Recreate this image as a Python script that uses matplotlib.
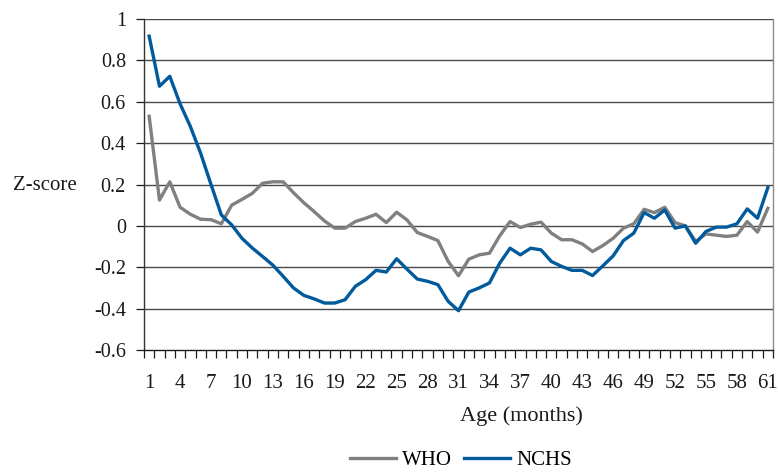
import matplotlib
matplotlib.use("Agg")
from matplotlib import pyplot as plt
import numpy as np

# monthly mean Z-scores
MONTHS = list(range(1, 62))
WHO = [0.53, 0.125, 0.213, 0.09, 0.056, 0.032, 0.03, 0.01, 0.10, 0.128,
       0.157, 0.206, 0.213, 0.213, 0.16, 0.112, 0.069, 0.024, -0.011, -0.011,
       0.021, 0.037, 0.056, 0.016, 0.066, 0.029, -0.032, -0.051, -0.071, -0.172,
       -0.241, -0.161, -0.14, -0.132, -0.048, 0.021, -0.008, 0.008, 0.018, -0.035,
       -0.067, -0.067, -0.087, -0.124, -0.095, -0.06, -0.011, 0.01, 0.08, 0.064,
       0.09, 0.016, 0.0, -0.075, -0.039, -0.045, -0.051, -0.045, 0.021, -0.03,
       0.085]
NCHS = [0.917, 0.675, 0.723, 0.59, 0.48, 0.35, 0.20, 0.053, 0.005, -0.06,
        -0.107, -0.148, -0.19, -0.244, -0.30, -0.336, -0.353, -0.373, -0.373, -0.357,
        -0.292, -0.26, -0.215, -0.223, -0.159, -0.209, -0.257, -0.268, -0.284, -0.365,
        -0.41, -0.32, -0.30, -0.276, -0.18, -0.108, -0.14, -0.108, -0.116, -0.172,
        -0.196, -0.215, -0.215, -0.24, -0.193, -0.145, -0.071, -0.035, 0.064, 0.037,
        0.077, -0.011, 0.0, -0.084, -0.027, -0.006, -0.006, 0.01, 0.082, 0.037,
        0.185]
Y_TICKS = [-0.6, -0.4, -0.2, 0, 0.2, 0.4, 0.6, 0.8, 1]
Y_LABELS = ["-0.6", "-0.4", "-0.2", "0", "0.2", "0.4", "0.6", "0.8", "1"]
X_LABEL_MONTHS = MONTHS[::3]

GRAY = "#808080"
BLUE = "#005a9c"
INK = "#1a1a1a"

plt.rcParams["font.family"] = ["Liberation Serif", "DejaVu Serif"]

W, H = 778, 474
fig = plt.figure(figsize=(W / 100, H / 100), dpi=100)
ax = fig.add_axes([144 / W, 1 - 350 / H, (773 - 144) / W, (350 - 19) / H])

for yv in Y_TICKS[1:]:
    ax.axhline(yv, color="#4a4a4a", linewidth=1.0, zorder=1)

ax.plot(MONTHS, WHO, color=GRAY, linewidth=2.4, label="WHO", zorder=3)
ax.plot(MONTHS, NCHS, color=BLUE, linewidth=2.4, label="NCHS", zorder=4)

ax.set_xlim(0.5, 61.5)
ax.set_ylim(-0.6, 1.0)
ax.set_yticks(Y_TICKS)
ax.set_yticklabels(Y_LABELS)
ax.set_xticks(X_LABEL_MONTHS)
ax.set_xticks(np.arange(0.5, 62, 1), minor=True)
ax.tick_params(axis="x", which="major", length=0, pad=17, labelsize=15, colors=INK)
ax.tick_params(axis="x", which="minor", length=6, width=0.9, color=INK, direction="out")
ax.tick_params(axis="y", length=6, width=0.9, pad=7, labelsize=14.5, colors=INK)

ax.spines["top"].set_visible(False)
ax.spines["left"].set_color("#333333")
ax.spines["bottom"].set_color(INK)
ax.spines["right"].set_color("#8c8c8c")
for side in ax.spines.values():
    side.set_linewidth(1.0)

fig.text(13 / W, 1 - 185 / H, "Z-score", ha="left", va="center", fontsize=15, color=INK)
fig.text(521 / W, 1 - 416 / H, "Age (months)", ha="center", va="center",
         fontsize=16, color=INK)
fig.legend(loc="center", bbox_to_anchor=(461 / W, 1 - 460 / H), ncol=2, frameon=False,
           fontsize=15, handlelength=2.2, handletextpad=0.3, columnspacing=0.6)

fig.savefig("out.png", dpi=100)
